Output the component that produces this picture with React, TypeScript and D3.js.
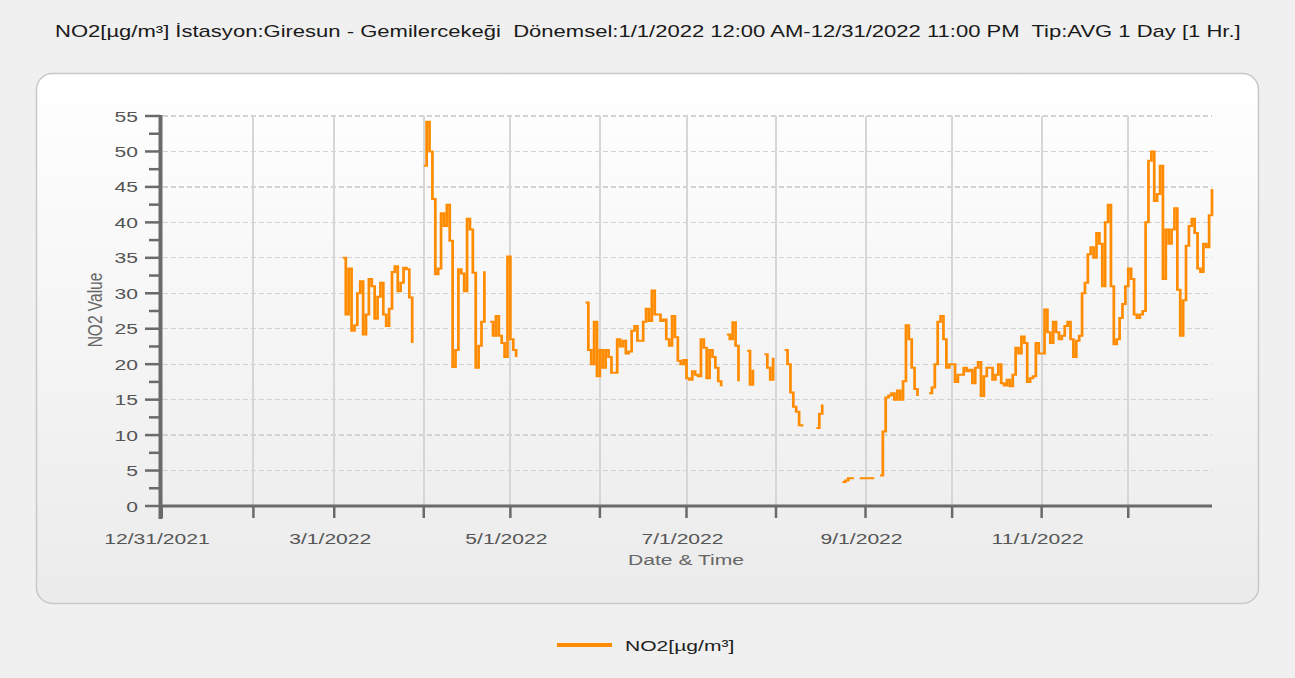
import React from 'react';
import * as d3 from 'd3';

// --- Data: daily NO2 averages, one array per month (null = no data) ---
const marValues = [null, null, null, 35, 27, 33.5, 24.7, 25.5, 30, 31.7, 24.2, 27, 32, 31, 26.4, 29.5, 31.5, 27, 25.4, 27.8, 33, 33.8, 30.3, 31.5, 33.6, 33.4, 29.4, 23, null, null, null];
const aprValues = [48, 54.2, 50, 43.3, 32.7, 33.5, 41.3, 39.5, 42.5, 37.4, 19.6, 22, 33.4, 32.8, 30.3, 40.5, 39, 32.9, 19.5, 22.6, 26, 33.1, null, 26, 24, 26.8, 24, 23, 21, 35.2];
const mayValues = [23.5, 22, 21, null, null, null, null, null, null, null, null, null, null, null, null, null, null, null, null, null, null, null, null, null, null, null, 28.7, 22, 20, 26, 18.3];
const junValues = [22, 19.5, 22, 21, 18.8, 18.8, 23.5, 22.5, 23.3, 21.5, 21.8, 24.7, 25.4, 23.3, 23.3, 26, 27.8, 26.1, 30.4, 27, 27, 26.1, 26.3, 23.5, 22.6, 26.8, 23.8, 20.5, 20, 20.6];
const julValues = [18, 17.8, 19, 18.5, 18.3, 23.5, 22.3, 18, 22, 21, 19.5, 17.6, 16.9, null, 24.2, 23.5, 25.9, 22.6, 17.6, null, null, 21.9, 17.1, 19.2, null, null, null, 21.4, 19.5, 17.8, 20.9];
const augValues = [null, null, null, 22, 20, 16, 14, 13.3, 11.4, 11.2, null, null, null, null, 11, 13, 14.3, null, null, null, null, null, null, 3.4, 3.6, 3.9, 3.9, 3.9, null, 3.9, 3.9];
const sepValues = [3.9, 3.9, 3.9, 3.9, null, 4.3, 10.5, 15.3, 15.6, 15.9, 15, 16.3, 15, 17.6, 25.5, 23.5, 19.5, 16.5, 15.5, null, null, null, 15.9, 16.7, 20, 26, 26.8, 23.5, 19.5, 20];
const octValues = [20, 17.5, 18.5, 18.5, 19.5, 19, 19.2, 17.3, 19.5, 20.3, 15.5, 18.3, 19.5, 19.5, 17.8, 18.5, 20, 17.3, 17, 17.8, 16.9, 18.5, 22.3, 21.5, 23.9, 23, 17.5, 18, 18.3, 23, 21.5];
const novValues = [21.5, 27.7, 24.5, 23, 26, 24.5, 23.5, 24, 25.4, 26, 23.5, 21, 23.3, 24, 30, 31.5, 35.5, 36.5, 35, 38.5, 37, 31, 40, 42.5, 31, 22.8, 23.5, 26.5, 28.5, 31];
const decValues = [33.5, 32, 27, 26.5, 27, 27.5, 40, 48.7, 50, 43, 44, 48, 32, 39, 37, 39, 42, 30.5, 24, 29, 36.7, 39.5, 40.5, 38.5, 33.5, 33, 37, 36.5, 41, 44.7];

const firstDay = new Date(2022, 2, 1);
const yTicks = [0, 5, 10, 15, 20, 25, 30, 35, 40, 45, 50, 55];
const xTickDates = [
    new Date(2021, 11, 31), new Date(2022, 1, 1), new Date(2022, 2, 1), new Date(2022, 3, 1),
    new Date(2022, 4, 1), new Date(2022, 5, 1), new Date(2022, 6, 1), new Date(2022, 7, 1),
    new Date(2022, 8, 1), new Date(2022, 9, 1), new Date(2022, 10, 1), new Date(2022, 11, 1)
];

const titleText = 'NO2[µg/m³] İstasyon:Giresun - Gemilercekeği  Dönemsel:1/1/2022 12:00 AM-12/31/2022 11:00 PM  Tip:AVG 1 Day [1 Hr.]';
const seriesName = 'NO2[µg/m³]';

// the screenshot is stretched horizontally, so text and line strokes are too
const SX = 1.36;
const FONT = '"Liberation Sans", Arial, sans-serif';
const ORANGE = '#ff8c00';

const Label = ({ x, y, anchor = 'start', size = 15.5, fill = '#555', rotate = 0, children }) => (
    <g transform={`translate(${x},${y}) scale(${SX},1)${rotate ? ` rotate(${rotate})` : ''}`}>
        <text textAnchor={anchor} fontSize={size} fill={fill} fontFamily={FONT} style={{ whiteSpace: 'pre' }}>{children}</text>
    </g>
);

export default function App() {
    const W = 1295, H = 678;
    const x = d3.scaleTime().domain([new Date(2021, 11, 31), new Date(2022, 11, 30)]).range([161, 1212]);
    const y = d3.scaleLinear().domain([0, 55]).range([506, 116]);
    const [x0, x1] = x.range();

    const values = [...marValues, ...aprValues, ...mayValues, ...junValues, ...julValues,
        ...augValues, ...sepValues, ...octValues, ...novValues, ...decValues];
    const series = values.map((v, i) => ({ date: d3.timeDay.offset(firstDay, i), value: v }));

    // path is built in un-stretched x and then scaled, so vertical strokes come out wider
    const line = d3.line<any>()
        .defined(d => d.value != null)
        .x(d => x0 + (x(d.date) - x0) / SX)
        .y(d => y(d.value))
        .curve(d3.curveStepAfter);

    const fmt = d3.timeFormat('%-m/%-d/%Y');
    const minorTicks = d3.range(2.5, 55, 5);

    return (
        <div style={{ position: 'absolute', left: 0, top: 0 }}>
            <svg width={W} height={H} style={{ display: 'block' }}>
                <defs>
                    <linearGradient id="panelFill" x1="0" y1="0" x2="0" y2="1">
                        <stop offset="0%" stopColor="#ffffff" />
                        <stop offset="100%" stopColor="#ebebeb" />
                    </linearGradient>
                </defs>
                <rect width={W} height={H} fill="#f0f0f0" />

                <Label x={55} y={37} size={16.2} fill="#1a1a1a">{titleText}</Label>

                <rect x={36.5} y={73.5} width={1222} height={530} rx={16} fill="url(#panelFill)" stroke="#c8c8c8" strokeWidth={1.5} />

                {/* horizontal dashed grid */}
                {yTicks.filter(t => t > 0).map(t => (
                    <line key={'hg' + t} x1={x0 + 2} x2={x1} y1={y(t)} y2={y(t)} stroke="#d2d2d2" strokeWidth={1.2} strokeDasharray="5,3" shapeRendering="crispEdges" />
                ))}
                {/* vertical grid */}
                {xTickDates.slice(1).map((d, i) => (
                    <line key={'vg' + i} x1={x(d)} x2={x(d)} y1={116} y2={506} stroke="#d6d6d6" strokeWidth={2} shapeRendering="crispEdges" />
                ))}

                {/* series */}
                <g transform={`translate(${x0},0) scale(${SX},1) translate(${-x0},0)`}>
                    <path d={line(series)} fill="none" stroke={ORANGE} strokeWidth={2} strokeLinejoin="miter" />
                </g>

                {/* y axis */}
                <line x1={160.5} x2={160.5} y1={115} y2={519} stroke="#6a6a6a" strokeWidth={4} />
                {yTicks.map(t => (
                    <line key={'yt' + t} x1={145} x2={160} y1={y(t)} y2={y(t)} stroke="#6a6a6a" strokeWidth={2.5} />
                ))}
                {minorTicks.map(t => (
                    <line key={'ym' + t} x1={149} x2={160} y1={y(t)} y2={y(t)} stroke="#6a6a6a" strokeWidth={2.5} />
                ))}
                {yTicks.map(t => (
                    <Label key={'yl' + t} x={138} y={y(t) + 5.5} anchor="end">{t}</Label>
                ))}

                {/* x axis */}
                <line x1={160} x2={x1} y1={506} y2={506} stroke="#6a6a6a" strokeWidth={3} />
                {xTickDates.map((d, i) => (
                    <line key={'xt' + i} x1={x(d)} x2={x(d)} y1={506} y2={518} stroke="#6a6a6a" strokeWidth={i === 0 ? 4 : 2.5} />
                ))}
                {xTickDates.map((d, i) => i % 2 === 0 ? (
                    <Label key={'xl' + i} x={x(d) - 4} y={544} anchor="middle">{fmt(d)}</Label>
                ) : null)}

                <Label x={686} y={565} anchor="middle" fill="#666">Date &amp; Time</Label>
                <Label x={102} y={310} anchor="middle" fill="#666" rotate={-90}>NO2 Value</Label>

                {/* legend */}
                <line x1={557} x2={612} y1={645} y2={645} stroke={ORANGE} strokeWidth={4} />
                <Label x={625} y={651} fill="#222">{seriesName}</Label>
            </svg>
        </div>
    );
}
